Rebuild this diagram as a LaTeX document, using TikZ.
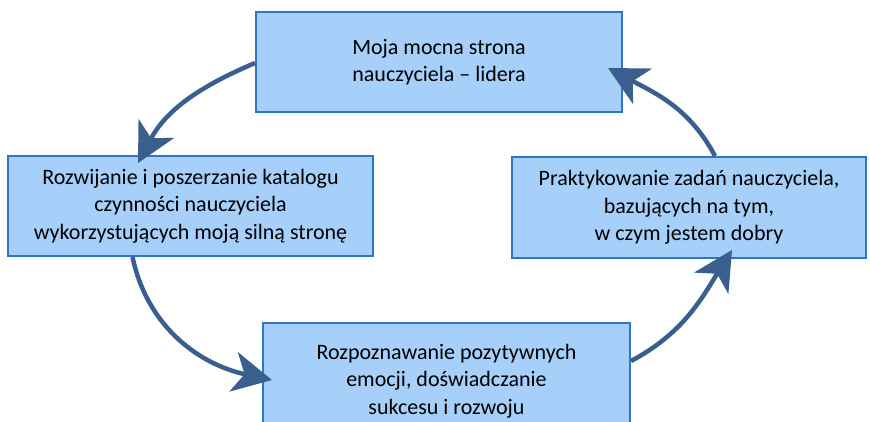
\documentclass[tikz,border=0pt]{standalone}
\usepackage{fontspec}
\setmainfont{Carlito}
\usetikzlibrary{arrows.meta}
\definecolor{boxfill}{HTML}{A6CFFA}
\definecolor{boxline}{HTML}{2F75C7}
\definecolor{arrowc}{HTML}{3A5F8F}
\tikzset{
  stagebox/.style={draw=boxline, fill=boxfill, line width=2pt, inner sep=0pt,
    align=center, font=\fontsize{22}{27.3}\selectfont, text=black},
  cyclearrow/.style={draw=arrowc, line width=4.5pt,
    -{Stealth[length=39pt,width=40pt,inset=11pt]}}
}
\begin{document}
\begin{tikzpicture}[x=1pt,y=1pt]
\useasboundingbox (0,0) rectangle (870,-422);
\clip (0,0) rectangle (870,-422);
\fill[white] (0,0) rectangle (870,-422);
\node[stagebox, minimum width=366pt, minimum height=100pt] (top) at (439,-62)
  {Moja mocna strona\\nauczyciela – lidera};
\node[stagebox, minimum width=365pt, minimum height=100pt] (left) at (190.5,-206)
  {Rozwijanie i poszerzanie katalogu\\czynności nauczyciela\\wykorzystujących moją silną stronę};
\node[stagebox, minimum width=354pt, minimum height=101pt] (right) at (689,-207.5)
  {Praktykowanie zadań nauczyciela,\\bazujących na tym,\\w czym jestem dobry};
\node[stagebox, minimum width=367pt, minimum height=116pt] (bottom) at (446.5,-381)
  {Rozpoznawanie pozytywnych\\emocji, doświadczanie\\sukcesu i rozwoju};
\coordinate (t1) at (138,-163);
\coordinate (t2) at (272,-380);
\coordinate (t3) at (732,-250);
\coordinate (t4) at (608,-68);
\draw[cyclearrow] ([yshift=-1pt]top.west) to[out=203,in=62] (t1);
\draw[cyclearrow] ([xshift=-58pt]left.south) to[out=-78,in=168] (t2);
\draw[cyclearrow] ([yshift=20pt]bottom.east) to[out=28,in=238] (t3);
\draw[cyclearrow] ([xshift=26pt]right.north) to[out=118,in=-28] (t4);
\end{tikzpicture}
\end{document}
